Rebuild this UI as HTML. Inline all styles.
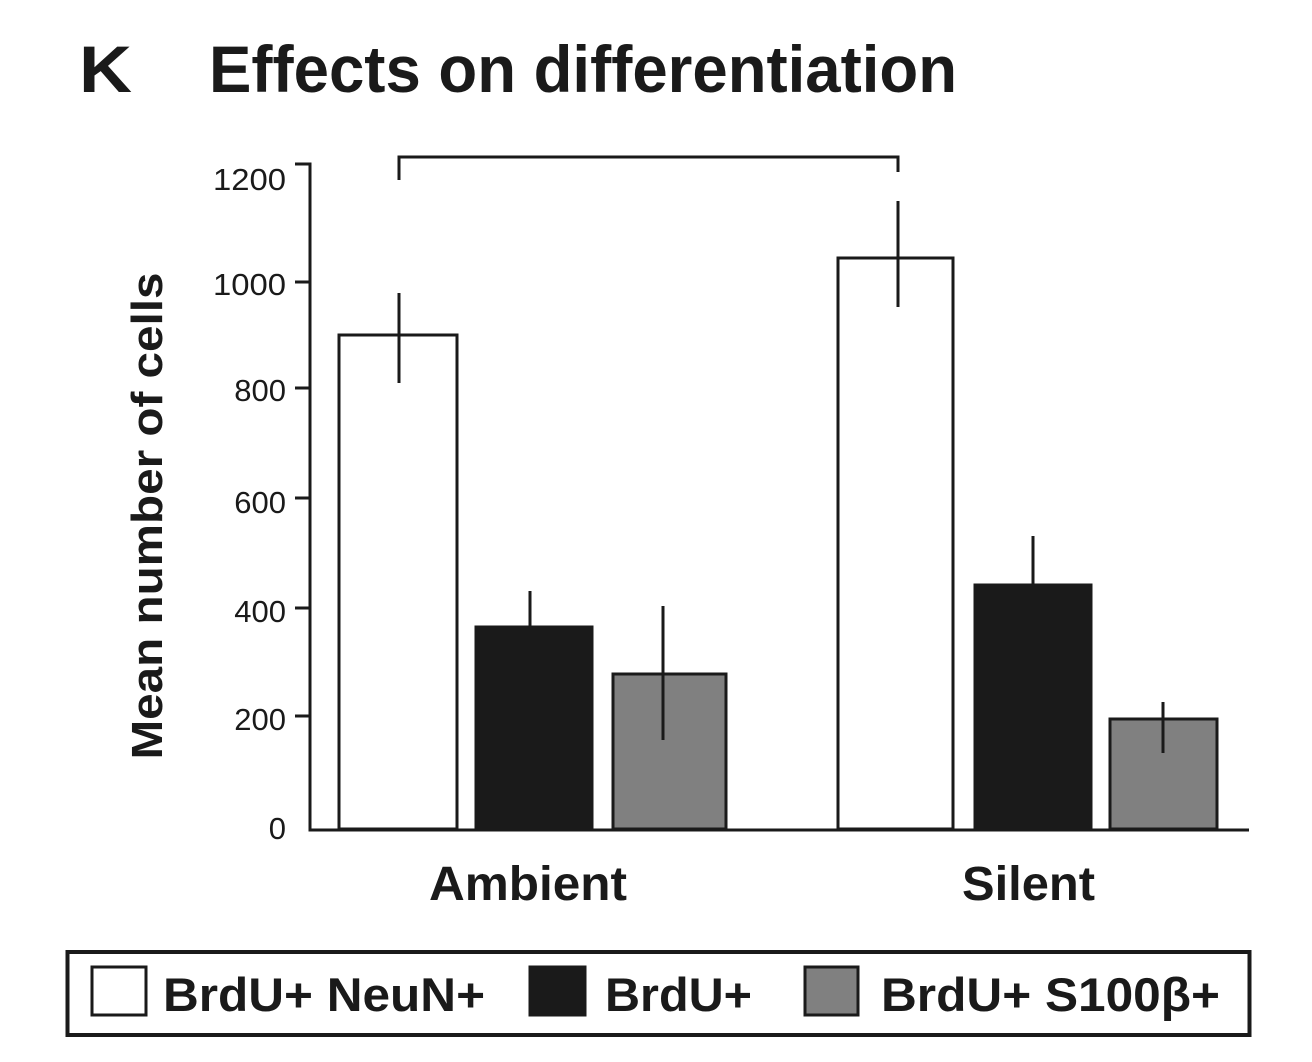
<!DOCTYPE html>
<html><head><style>body{margin:0;background:#fff}svg{display:block}</style></head>
<body>
<svg width="1312" height="1062" viewBox="0 0 1312 1062" xmlns="http://www.w3.org/2000/svg" font-family="Liberation Sans, Arial, sans-serif" fill="#1a1a1a">
<rect width="1312" height="1062" fill="#fff"/>
<text x="79" y="92" font-size="66" font-weight="bold" textLength="53" lengthAdjust="spacingAndGlyphs">K</text>
<text x="209" y="92" font-size="66" font-weight="bold" textLength="748" lengthAdjust="spacingAndGlyphs">Effects on differentiation</text>
<g stroke="#1a1a1a" stroke-width="3" fill="none">
<path d="M295 164 H310 V830 H1249"/>
<path d="M295 282 H310 M295 388 H310 M295 498 H310 M295 608 H310 M295 716 H310"/>
<path d="M399 180 V157 H898 V172"/>
</g>
<g font-size="31" text-anchor="end">
<text x="286" y="190" textLength="73" lengthAdjust="spacingAndGlyphs">1200</text>
<text x="286" y="295" textLength="73" lengthAdjust="spacingAndGlyphs">1000</text>
<text x="286" y="401">800</text>
<text x="286" y="513">600</text>
<text x="286" y="622">400</text>
<text x="286" y="730">200</text>
<text x="286" y="839">0</text>
</g>
<text transform="translate(162,516) rotate(-90)" font-size="44" font-weight="bold" text-anchor="middle" textLength="487" lengthAdjust="spacingAndGlyphs">Mean number of cells</text>
<g stroke="#1a1a1a" stroke-width="3">
<rect x="339" y="335" width="118" height="494" fill="#fff"/>
<rect x="476" y="627" width="116" height="202" fill="#1a1a1a"/>
<rect x="613" y="674" width="113" height="155" fill="#808080"/>
<rect x="838" y="258" width="115" height="571" fill="#fff"/>
<rect x="975" y="585" width="116" height="244" fill="#1a1a1a"/>
<rect x="1110" y="719" width="107" height="110" fill="#808080"/>
<path d="M399 293 V383 M530 591 V627 M663 606 V740 M898 201 V307 M1033 536 V585 M1163 702 V753"/>
</g>
<g font-size="48" font-weight="bold">
<text x="429" y="900" textLength="198" lengthAdjust="spacingAndGlyphs">Ambient</text>
<text x="962" y="900" textLength="133" lengthAdjust="spacingAndGlyphs">Silent</text>
</g>
<rect x="67.5" y="952" width="1182" height="83" fill="none" stroke="#1a1a1a" stroke-width="4"/>
<g stroke="#1a1a1a" stroke-width="3">
<rect x="92" y="967" width="54" height="48" fill="#fff"/>
<rect x="530" y="967" width="55" height="48" fill="#1a1a1a"/>
<rect x="805" y="967" width="53" height="48" fill="#808080"/>
</g>
<g font-size="47" font-weight="bold">
<text x="163" y="1011" textLength="322" lengthAdjust="spacingAndGlyphs">BrdU+ NeuN+</text>
<text x="605" y="1011" textLength="147" lengthAdjust="spacingAndGlyphs">BrdU+</text>
<text x="881" y="1011" textLength="339" lengthAdjust="spacingAndGlyphs">BrdU+ S100β+</text>
</g>
</svg>
</body></html>
